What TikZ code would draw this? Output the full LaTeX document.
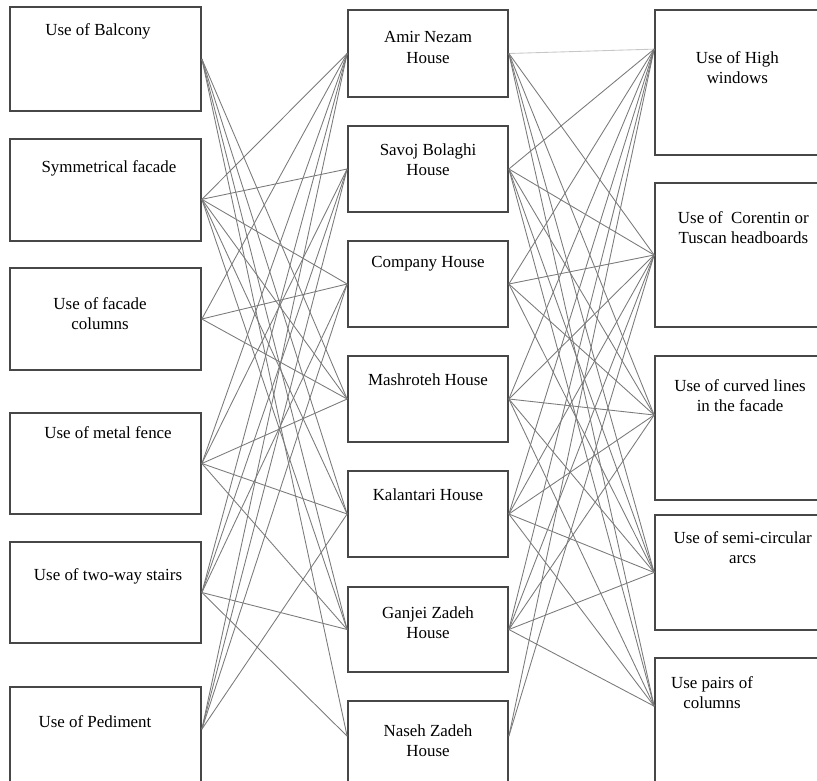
\documentclass[tikz,border=0pt]{standalone}
\usepackage{fontspec}
\setmainfont{Liberation Serif}
\usetikzlibrary{positioning}

\begin{document}
\begin{tikzpicture}[x=0.75pt,y=-0.75pt]
  \tikzstyle{box}=[rectangle,draw=black!72,line width=1.3pt,inner sep=0pt]
  \tikzstyle{left box}=[box,minimum width=143.25pt]
  \tikzstyle{house}=[box,minimum width=120pt]
  \tikzstyle{right box}=[box,minimum width=127.5pt]
  \tikzstyle{txt}=[anchor=north,align=center,inner sep=0pt,
                   font=\fontsize{12.7}{15.5}\selectfont]
  \tikzstyle{link}=[draw=black!52,line width=0.65pt]
  \useasboundingbox (0,0) rectangle (817,781);
  \clip (0,0) rectangle (817,781);
  % features on the left
  \node [left box,minimum height=78pt,
    label={[txt,yshift=-12.75pt,xshift=-5.6pt]north:Use of Balcony}] (bal) at (105.5,59) {};
  \node [left box,minimum height=76.5pt,
    label={[txt,yshift=-16.5pt,xshift=2.6pt]north:Symmetrical facade}] (sym) at (105.5,190) {};
  \node [left box,minimum height=76.5pt,
    label={[txt,yshift=-22.5pt,xshift=-4.1pt]north:Use of facade\\columns}] (col) at (105.5,319) {};
  \node [left box,minimum height=75.75pt,
    label={[txt,yshift=-10.5pt,xshift=1.9pt]north:Use of metal fence}] (fen) at (105.5,463.5) {};
  \node [left box,minimum height=75.75pt,
    label={[txt,yshift=-20.25pt,xshift=1.9pt]north:Use of two-way stairs}] (sta) at (105.5,592.5) {};
  \node [left box,minimum height=90pt,
    label={[txt,yshift=-21.75pt,xshift=-7.9pt]north:Use of Pediment}] (ped) at (105.5,747) {};
  % houses
  \node [house,minimum height=65.25pt,
    label={[txt,yshift=-16.5pt]north:Amir Nezam\\House}] (amir) at (428,53.5) {};
  \node [house,minimum height=64.5pt,
    label={[txt,yshift=-13.5pt]north:Savoj Bolaghi\\House}] (savoj) at (428,169) {};
  \node [house,minimum height=64.5pt,
    label={[txt,yshift=-12pt]north:Company House}] (comp) at (428,284) {};
  \node [house,minimum height=64.5pt,
    label={[txt,yshift=-13.5pt]north:Mashroteh House}] (mash) at (428,399) {};
  \node [house,minimum height=64.5pt,
    label={[txt,yshift=-13.5pt]north:Kalantari House}] (kal) at (428,514) {};
  \node [house,minimum height=63.75pt,
    label={[txt,yshift=-15pt]north:Ganjei Zadeh\\House}] (gan) at (428,629.5) {};
  \node [house,minimum height=90pt,
    label={[txt,yshift=-18pt]north:Naseh Zadeh\\House}] (nas) at (428,761) {};
  % features on the right
  \node [right box,minimum height=108.75pt,
    label={[txt,yshift=-31.5pt,xshift=-2pt]north:Use of High\\windows}] (high) at (740,82.5) {};
  \node [right box,minimum height=108pt,
    label={[txt,yshift=-21.75pt,xshift=2.5pt]north:Use of\ \ Corentin or\\Tuscan headboards}] (cor) at (740,255) {};
  \node [right box,minimum height=108pt,
    label={[txt,yshift=-18pt]north:Use of curved lines\\in the facade}] (curv) at (740,428) {};
  \node [right box,minimum height=86.25pt,
    label={[txt,yshift=-12.75pt,xshift=2pt]north:Use of semi-circular\\arcs}] (semi) at (740,572.5) {};
  \node [right box,minimum height=112.5pt,
    label={[txt,yshift=-14.25pt,xshift=-21pt]north:Use pairs of\\columns}] (pair) at (740,733) {};
  % where the lines meet the boxes
  \coordinate (symE) at ([yshift=-7pt]sym.east);
  \coordinate (pedE) at ([yshift=-32.25pt]ped.north east);
  \coordinate (nasW) at ([yshift=-27pt]nas.north west);
  \coordinate (nasE) at ([yshift=-27pt]nas.north east);
  \coordinate (highW) at ([yshift=-30pt]high.north west);
  \coordinate (curvW) at ([yshift=9.75pt]curv.west);
  \coordinate (pairW) at ([yshift=-36.75pt]pair.north west);
  % features -- houses
  \foreach \a/\b in {bal.east/mash.west, bal.east/kal.west, bal.east/gan.west, bal.east/nasW,
      symE/amir.west, symE/savoj.west, symE/comp.west, symE/mash.west, symE/kal.west, symE/gan.west,
      col.east/amir.west, col.east/comp.west, col.east/mash.west,
      fen.east/amir.west, fen.east/savoj.west, fen.east/mash.west, fen.east/kal.west, fen.east/gan.west,
      sta.east/amir.west, sta.east/savoj.west, sta.east/comp.west, sta.east/gan.west, sta.east/nasW,
      pedE/amir.west, pedE/savoj.west, pedE/comp.west, pedE/kal.west}
    \draw [link] (\a) -- (\b);
  % houses -- features
  \draw [link,draw=black!22] (amir.east) -- (highW);
  \foreach \a/\b in {amir.east/cor.west, amir.east/curvW, amir.east/semi.west, amir.east/pairW,
      savoj.east/highW, savoj.east/cor.west, savoj.east/curvW, savoj.east/semi.west, savoj.east/pairW,
      comp.east/highW, comp.east/cor.west, comp.east/curvW, comp.east/semi.west,
      mash.east/highW, mash.east/cor.west, mash.east/curvW, mash.east/semi.west, mash.east/pairW,
      kal.east/highW, kal.east/cor.west, kal.east/curvW, kal.east/semi.west, kal.east/pairW,
      gan.east/highW, gan.east/cor.west, gan.east/curvW, gan.east/semi.west, gan.east/pairW,
      nasE/highW, nasE/cor.west}
    \draw [link] (\a) -- (\b);
\end{tikzpicture}
\end{document}
